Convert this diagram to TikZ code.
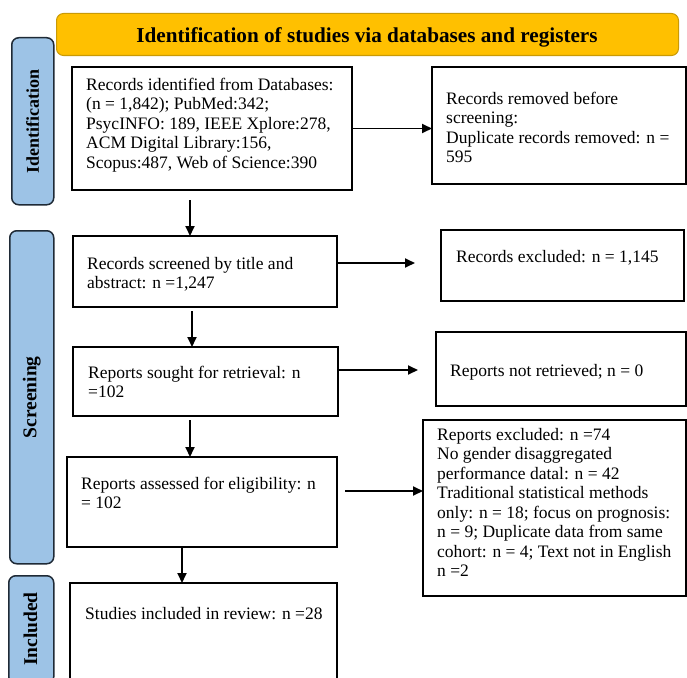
\documentclass[tikz,border=0pt]{standalone}
\usepackage{fontspec}
\setmainfont{Liberation Serif}
\usetikzlibrary{arrows.meta,calc}
\definecolor{hdrfill}{HTML}{FFC000}
\definecolor{hdrdraw}{HTML}{C99A06}
\definecolor{sidefill}{HTML}{9DC3E6}
\definecolor{sidedraw}{HTML}{1F2A36}
\newcommand\toplines[1]{\begin{tabular}[t]{@{}l@{}}#1\end{tabular}}
\begin{document}
\begin{tikzpicture}[x=1pt,y=-1pt,
  box/.style={draw=black, line width=1.7pt, fill=white, inner sep=0pt, outer sep=0pt, anchor=north west},
  hdr/.style={draw=hdrdraw, line width=1pt, fill=hdrfill, rounded corners=7pt, inner sep=0pt, anchor=north west},
  side/.style={draw=sidedraw, line width=1.5pt, fill=sidefill, rounded corners=7pt, inner sep=0pt, anchor=north west},
  txt/.style={anchor=base west, inner sep=0pt, font=\fontsize{17.5}{19.5}\selectfont},
  hdrtxt/.style={anchor=base, font=\bfseries\fontsize{21.2}{23}\selectfont, inner sep=0pt},
  sidetxt/.style={rotate=90, font=\bfseries\fontsize{19.5}{21}\selectfont, inner sep=0pt},
  arr/.style={draw=black, line width=1.8pt, -{Triangle[length=10pt,width=9pt]}}
]
\useasboundingbox (0,0) rectangle (687,677);
\fill[white] (0,0) rectangle (687,677);

% header
\node[hdr, minimum width=622pt, minimum height=42pt] (h) at (56,13) {};
\node[hdrtxt] (ht) at (367,42) {Identification of studies via databases and registers};

% side labels
\node[side, minimum width=42pt, minimum height=167pt] (s1) at (11,37) {};
\node[sidetxt, font=\bfseries\fontsize{18}{20}\selectfont] (s1t) at (s1.center) {Identification};
\node[side, minimum width=44pt, minimum height=333pt] (s2) at (9,230) {};
\node[sidetxt] (s2t) at (s2.center) {Screening};
\node[side, minimum width=45pt, minimum height=108pt] (s3) at (8,575) {};
\node[sidetxt] (s3t) at (30.5,629) {Included};

% boxes
\node[box, minimum width=280pt, minimum height=123pt] (b1) at (72,67) {};
\node[txt] (t1) at (86,90) {\toplines{Records identified from Databases:\\(n = 1,842); PubMed:342;\\PsycINFO: 189, IEEE Xplore:278,\\ACM Digital Library:156,\\Scopus:487, Web of Science:390}};

\node[box, minimum width=254pt, minimum height=117pt] (b2) at (432,67) {};
\node[txt] (t2) at (446,104) {\toplines{Records removed before\\screening:\\Duplicate records removed: n =\\595}};

\node[box, minimum width=264pt, minimum height=71pt] (b3) at (73,236) {};
\node[txt] (t3) at (87,269) {\toplines{Records screened by title and\\abstract: n =1,247}};

\node[box, minimum width=243pt, minimum height=71pt] (b7) at (441,230) {};
\node[txt] (t7) at (456,262) {Records excluded: n = 1,145};

\node[box, minimum width=265pt, minimum height=69pt] (b4) at (73,347) {};
\node[txt] (t4) at (88,378) {\toplines{Reports sought for retrieval: n\\=102}};

\node[box, minimum width=250pt, minimum height=74pt] (b8) at (436,332) {};
\node[txt] (t8) at (450,376) {Reports not retrieved; n = 0};

\node[box, minimum width=270pt, minimum height=90pt] (b5) at (67,457) {};
\node[txt] (t5) at (81,489) {\toplines{Reports assessed for eligibility: n\\= 102}};

\node[box, minimum width=263pt, minimum height=176pt] (b9) at (423,420) {};
\node[txt] (t9) at (437,440) {\toplines{Reports excluded: n =74\\No gender disaggregated\\performance datal: n = 42\\Traditional statistical methods\\only: n = 18; focus on prognosis:\\n = 9; Duplicate data from same\\cohort: n = 4; Text not in English\\n =2}};

\node[box, minimum width=267pt, minimum height=110pt] (b6) at (70,583) {};
\node[txt] (t6) at (85,619) {Studies included in review: n =28};

% connectors
\coordinate (c1) at (190,200);
\draw[arr] (c1) -- (c1 |- b3.north);
\coordinate (c2) at (192,311);
\draw[arr] (c2) -- (c2 |- b4.north);
\coordinate (c3) at (190,420);
\draw[arr] (c3) -- (c3 |- b5.north);
\coordinate (c4) at (182,547);
\draw[arr] (c4) -- (c4 |- b6.north);

\draw[arr] (b1.east) -- (b1.east -| b2.west);
\coordinate (e3) at (337,263);
\coordinate (f3) at (415,263);
\draw[arr] (e3) -- (f3);
\coordinate (e4) at (338,370);
\coordinate (f4) at (418,370);
\draw[arr] (e4) -- (f4);
\coordinate (e5) at (345,491);
\draw[arr] (e5) -- (e5 -| b9.west);
\end{tikzpicture}
\end{document}
